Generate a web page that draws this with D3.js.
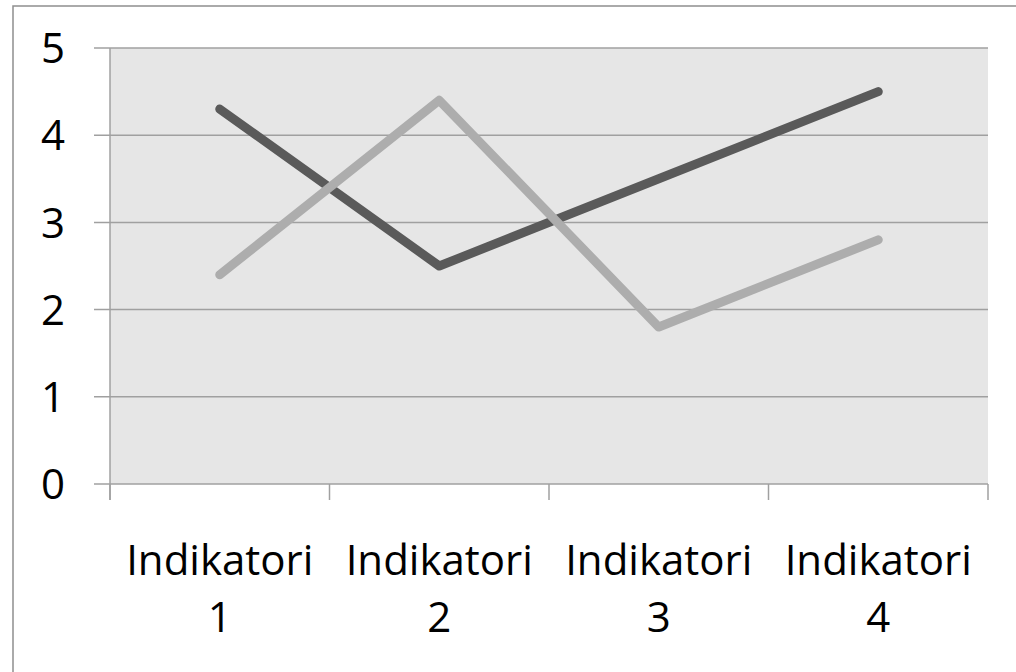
<!DOCTYPE html>
<html>
<head>
<meta charset="utf-8">
<script src="https://cdn.jsdelivr.net/npm/d3@7"></script>
<style>
  html, body { margin: 0; padding: 0; background: #fff; }
  svg { display: block; }
  text { font-family: "Open Sans", "Liberation Sans", sans-serif; fill: #000; }
</style>
</head>
<body>
<div id="chart"></div>
<script>
// data
const categories = ["Indikatori 1", "Indikatori 2", "Indikatori 3", "Indikatori 4"];
const seriesDark = [4.3, 2.5, 3.5, 4.5];
const seriesLight = [2.4, 4.4, 1.8, 2.8];
const yTicks = [0, 1, 2, 3, 4, 5];

(function(){
  const W = 1016, H = 672;
  const plot = { left: 110, right: 988, top: 48, bottom: 484 };
  const gridColor = "#a0a0a0";

  const svg = d3.select("#chart").append("svg")
    .attr("width", W)
    .attr("height", H);

  // outer frame (only top / left are visible in the picture)
  svg.append("rect")
    .attr("x", 13).attr("y", 6)
    .attr("width", W + 20).attr("height", H + 20)
    .attr("fill", "#fff")
    .attr("stroke", "#8f8f8f")
    .attr("stroke-width", 1.5);

  const x = d3.scaleBand()
    .domain(categories)
    .range([plot.left, plot.right]);

  const y = d3.scaleLinear()
    .domain([0, 5])
    .range([plot.bottom, plot.top]);

  // plot background
  svg.append("rect")
    .attr("x", plot.left).attr("y", plot.top)
    .attr("width", plot.right - plot.left)
    .attr("height", plot.bottom - plot.top)
    .attr("fill", "#e6e6e6");

  // gridlines + left ticks
  svg.append("g")
    .selectAll("line")
    .data(yTicks)
    .join("line")
    .attr("x1", plot.left - 16)
    .attr("x2", plot.right)
    .attr("y1", d => y(d))
    .attr("y2", d => y(d))
    .attr("stroke", gridColor)
    .attr("stroke-width", 1.5);

  // y labels
  svg.append("g")
    .selectAll("text")
    .data(yTicks)
    .join("text")
    .attr("x", 65)
    .attr("y", d => y(d))
    .attr("dy", "0.36em")
    .attr("text-anchor", "end")
    .attr("font-size", 42)
    .text(d => d);

  // left axis line
  svg.append("line")
    .attr("x1", plot.left).attr("x2", plot.left)
    .attr("y1", plot.top).attr("y2", plot.bottom + 16)
    .attr("stroke", gridColor)
    .attr("stroke-width", 1.5);

  // x ticks at band edges
  const edges = categories.map(c => x(c)).concat([x.range()[1]]);
  svg.append("g")
    .selectAll("line")
    .data(edges)
    .join("line")
    .attr("x1", d => d).attr("x2", d => d)
    .attr("y1", plot.bottom).attr("y2", plot.bottom + 16)
    .attr("stroke", gridColor)
    .attr("stroke-width", 1.5);

  // x labels, two lines each
  const xl = svg.append("g")
    .selectAll("text")
    .data(categories)
    .join("text")
    .attr("x", d => x(d) + x.bandwidth() / 2)
    .attr("y", 575)
    .attr("text-anchor", "middle")
    .attr("font-size", 42);
  xl.each(function(d){
    const parts = d.split(" ");
    const t = d3.select(this);
    parts.forEach((p, i) => {
      t.append("tspan")
        .attr("x", x(d) + x.bandwidth() / 2)
        .attr("y", 575 + i * 57)
        .text(p);
    });
  });

  // lines
  const line = d3.line()
    .x((d, i) => x(categories[i]) + x.bandwidth() / 2)
    .y(d => y(d));

  [[seriesDark, "#5a5a5a"], [seriesLight, "#adadad"]].forEach(([vals, col]) => {
    svg.append("path")
      .datum(vals)
      .attr("d", line)
      .attr("fill", "none")
      .attr("stroke", col)
      .attr("stroke-width", 9)
      .attr("stroke-linecap", "round")
      .attr("stroke-linejoin", "round");
  });
})();
</script>
</body>
</html>
